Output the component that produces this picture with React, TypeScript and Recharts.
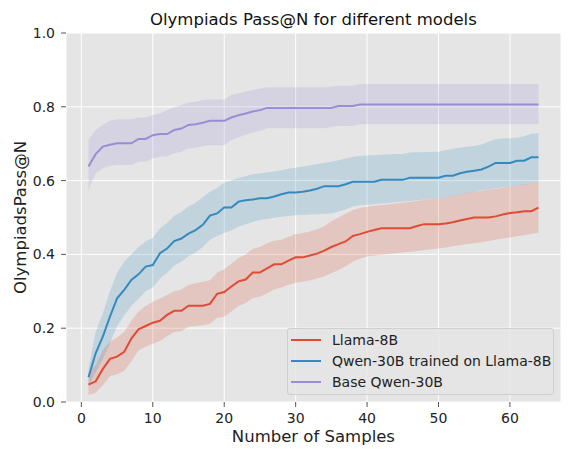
import React from 'react';
import { ComposedChart, Area, Line, XAxis, YAxis, CartesianGrid, Legend } from 'recharts';

const samples = Array.from({ length: 64 }, (_, i) => i + 1);

const llama = [
  0.047, 0.056, 0.089, 0.117, 0.123, 0.136, 0.172, 0.197, 0.206, 0.215,
  0.22, 0.236, 0.247, 0.247, 0.261, 0.261, 0.261, 0.266, 0.293, 0.298,
  0.313, 0.327, 0.332, 0.351, 0.351, 0.362, 0.373, 0.373, 0.383, 0.392,
  0.392, 0.397, 0.402, 0.41, 0.42, 0.428, 0.435, 0.45, 0.455, 0.461,
  0.466, 0.471, 0.471, 0.471, 0.471, 0.471, 0.477, 0.482, 0.482, 0.482,
  0.484, 0.487, 0.492, 0.496, 0.5, 0.5, 0.5, 0.503, 0.508, 0.512,
  0.514, 0.517, 0.517, 0.527,
];
const llamaLo = [
  0.019, 0.025, 0.045, 0.07, 0.075, 0.085, 0.11, 0.14, 0.15, 0.158,
  0.165, 0.178, 0.19, 0.192, 0.204, 0.206, 0.208, 0.212, 0.228, 0.231,
  0.245, 0.26, 0.268, 0.282, 0.285, 0.295, 0.305, 0.31, 0.318, 0.323,
  0.326, 0.33, 0.335, 0.34, 0.349, 0.358, 0.368, 0.38, 0.388, 0.394,
  0.397, 0.399, 0.401, 0.403, 0.405, 0.407, 0.409, 0.412, 0.414, 0.416,
  0.419, 0.422, 0.425, 0.428, 0.43, 0.433, 0.436, 0.44, 0.443, 0.446,
  0.449, 0.452, 0.455, 0.459,
];
const llamaHi = [
  0.08, 0.1, 0.14, 0.163, 0.175, 0.19, 0.22, 0.245, 0.26, 0.272,
  0.28, 0.29, 0.3, 0.305, 0.318, 0.322, 0.326, 0.33, 0.35, 0.36,
  0.375, 0.39, 0.4, 0.415, 0.42, 0.43, 0.437, 0.44, 0.448, 0.455,
  0.458, 0.462, 0.468, 0.476, 0.49, 0.5, 0.51, 0.52, 0.526, 0.529,
  0.532, 0.534, 0.536, 0.538, 0.54, 0.543, 0.545, 0.548, 0.55, 0.552,
  0.555, 0.559, 0.563, 0.567, 0.57, 0.572, 0.575, 0.578, 0.58, 0.583,
  0.587, 0.59, 0.593, 0.597,
];

const qwenTrained = [
  0.067, 0.132, 0.177, 0.231, 0.281, 0.304, 0.331, 0.346, 0.367, 0.371,
  0.403, 0.416, 0.436, 0.443, 0.456, 0.466, 0.48, 0.505, 0.511, 0.527,
  0.527, 0.543, 0.547, 0.549, 0.552, 0.552, 0.557, 0.563, 0.568, 0.568,
  0.57, 0.573, 0.578, 0.585, 0.585, 0.585, 0.59, 0.597, 0.597, 0.597,
  0.597, 0.602, 0.602, 0.602, 0.602, 0.608, 0.608, 0.608, 0.608, 0.608,
  0.613, 0.613, 0.62, 0.624, 0.627, 0.63, 0.638, 0.648, 0.648, 0.648,
  0.654, 0.654, 0.663, 0.663,
];
const qwenTrainedLo = [
  0.045, 0.08, 0.115, 0.16, 0.205, 0.235, 0.26, 0.28, 0.3, 0.31,
  0.335, 0.35, 0.37, 0.38, 0.395, 0.405, 0.42, 0.44, 0.45, 0.458,
  0.465, 0.475, 0.482, 0.488, 0.493, 0.496, 0.499, 0.502, 0.504, 0.506,
  0.507, 0.508, 0.509, 0.51, 0.511, 0.516, 0.522, 0.53, 0.533, 0.534,
  0.536, 0.538, 0.539, 0.541, 0.543, 0.545, 0.547, 0.549, 0.551, 0.552,
  0.555, 0.558, 0.562, 0.566, 0.57, 0.573, 0.576, 0.579, 0.581, 0.583,
  0.586, 0.589, 0.593, 0.597,
];
const qwenTrainedHi = [
  0.09, 0.19, 0.24, 0.3, 0.35, 0.38, 0.4, 0.42, 0.435, 0.445,
  0.47, 0.485, 0.505, 0.515, 0.53, 0.54, 0.555, 0.57, 0.58, 0.595,
  0.6, 0.607, 0.612, 0.617, 0.62, 0.622, 0.625, 0.628, 0.632, 0.635,
  0.638, 0.641, 0.645, 0.648, 0.651, 0.655, 0.66, 0.664, 0.667, 0.668,
  0.669, 0.67, 0.671, 0.672, 0.672, 0.676, 0.677, 0.677, 0.678, 0.678,
  0.682, 0.686, 0.69, 0.692, 0.694, 0.698, 0.705, 0.712, 0.714, 0.715,
  0.716, 0.72, 0.727, 0.728,
];

const qwenBase = [
  0.638, 0.672, 0.692, 0.697, 0.701, 0.701, 0.701, 0.713, 0.713, 0.723,
  0.726, 0.726, 0.737, 0.741, 0.751, 0.753, 0.757, 0.762, 0.762, 0.762,
  0.771, 0.777, 0.782, 0.787, 0.791, 0.797, 0.797, 0.797, 0.797, 0.797,
  0.797, 0.797, 0.797, 0.797, 0.797, 0.802, 0.802, 0.802, 0.806, 0.806,
  0.806, 0.806, 0.806, 0.806, 0.806, 0.806, 0.806, 0.806, 0.806, 0.806,
  0.806, 0.806, 0.806, 0.806, 0.806, 0.806, 0.806, 0.806, 0.806, 0.806,
  0.806, 0.806, 0.806, 0.806,
];
const qwenBaseLo = [
  0.575, 0.62, 0.633, 0.64, 0.642, 0.642, 0.642, 0.651, 0.651, 0.66,
  0.665, 0.665, 0.674, 0.678, 0.687, 0.689, 0.694, 0.696, 0.696, 0.696,
  0.71, 0.717, 0.724, 0.73, 0.735, 0.742, 0.742, 0.742, 0.742, 0.742,
  0.742, 0.742, 0.742, 0.742, 0.746, 0.748, 0.748, 0.748, 0.753, 0.753,
  0.753, 0.753, 0.753, 0.753, 0.753, 0.753, 0.753, 0.753, 0.753, 0.753,
  0.753, 0.753, 0.753, 0.753, 0.753, 0.753, 0.753, 0.753, 0.753, 0.753,
  0.753, 0.753, 0.753, 0.753,
];
const qwenBaseHi = [
  0.71, 0.737, 0.751, 0.762, 0.766, 0.766, 0.766, 0.771, 0.771, 0.778,
  0.782, 0.791, 0.798, 0.805, 0.811, 0.814, 0.818, 0.82, 0.82, 0.82,
  0.832, 0.837, 0.841, 0.846, 0.849, 0.853, 0.853, 0.853, 0.853, 0.853,
  0.853, 0.853, 0.853, 0.853, 0.854, 0.857, 0.857, 0.857, 0.862, 0.862,
  0.862, 0.862, 0.862, 0.862, 0.862, 0.862, 0.862, 0.862, 0.862, 0.862,
  0.862, 0.862, 0.862, 0.862, 0.862, 0.862, 0.862, 0.862, 0.862, 0.862,
  0.862, 0.862, 0.862, 0.862,
];

const xTicks = [0, 10, 20, 30, 40, 50, 60];
const yTicks = [0, 0.2, 0.4, 0.6, 0.8, 1.0];

const seriesNames = ['Llama-8B', 'Qwen-30B trained on Llama-8B', 'Base Qwen-30B'];
const seriesColors = ['#E24A33', '#348ABD', '#988ED5'];

const data = samples.map((x, i) => ({
  x,
  llama: llama[i],
  llamaBand: [llamaLo[i], llamaHi[i]],
  qwenTrained: qwenTrained[i],
  qwenTrainedBand: [qwenTrainedLo[i], qwenTrainedHi[i]],
  qwenBase: qwenBase[i],
  qwenBaseBand: [qwenBaseLo[i], qwenBaseHi[i]],
}));

const FONT = '"DejaVu Sans", sans-serif';

const LegendBox = () => (
  <div
    style={{
      width: 267,
      height: 67,
      boxSizing: 'border-box',
      background: 'rgba(229,229,229,0.8)',
      border: '1px solid #cfcfcf',
      borderRadius: 3,
      fontFamily: FONT,
      fontSize: 14,
      color: '#222',
      paddingTop: 1,
    }}
  >
    {seriesNames.map((name, i) => (
      <div key={name} style={{ height: 20.8, display: 'flex', alignItems: 'center', marginTop: i === 0 ? 0 : 0 }}>
        <div style={{ width: 30, height: 2, background: seriesColors[i], marginLeft: 3, marginRight: 11 }} />
        <span style={{ whiteSpace: 'nowrap' }}>{name}</span>
      </div>
    ))}
  </div>
);

export default function App() {
  return (
    <div style={{ position: 'absolute', left: 0, top: 0, width: 571, height: 459, background: '#fff' }}>
      <ComposedChart
        width={571}
        height={459}
        data={data}
        margin={{ top: 33, right: 10, bottom: 0, left: 0 }}
      >
        <CartesianGrid fill="#E5E5E5" stroke="#FFFFFF" strokeWidth={1} />
        <XAxis
          dataKey="x"
          type="number"
          domain={[-2.15, 67.15]}
          ticks={xTicks}
          height={57}
          axisLine={false}
          tickLine={{ stroke: '#555555' }}
          tickSize={5}
          tickMargin={6}
          tick={{ fill: '#222', fontSize: 14, fontFamily: FONT }}
          allowDataOverflow
        />
        <YAxis
          type="number"
          domain={[0, 1]}
          ticks={yTicks}
          width={66}
          axisLine={false}
          tickLine={{ stroke: '#555555' }}
          tickSize={5}
          tickMargin={6}
          tickFormatter={(v: number) => v.toFixed(1)}
          tick={{ fill: '#222', fontSize: 14, fontFamily: FONT }}
          allowDataOverflow
        />
        <Area type="linear" dataKey="llamaBand" stroke="none" fill={seriesColors[0]} fillOpacity={0.2} isAnimationActive={false} legendType="none" />
        <Area type="linear" dataKey="qwenTrainedBand" stroke="none" fill={seriesColors[1]} fillOpacity={0.2} isAnimationActive={false} legendType="none" />
        <Area type="linear" dataKey="qwenBaseBand" stroke="none" fill={seriesColors[2]} fillOpacity={0.2} isAnimationActive={false} legendType="none" />
        <Line type="linear" dataKey="llama" stroke={seriesColors[0]} strokeWidth={2} dot={false} isAnimationActive={false} />
        <Line type="linear" dataKey="qwenTrained" stroke={seriesColors[1]} strokeWidth={2} dot={false} isAnimationActive={false} />
        <Line type="linear" dataKey="qwenBase" stroke={seriesColors[2]} strokeWidth={2} dot={false} isAnimationActive={false} />
        <Legend
          layout="vertical"
          align="center"
          verticalAlign="middle"
          content={() => <LegendBox />}
          wrapperStyle={{ left: 287, top: 328, width: 267, height: 67 }}
        />
      </ComposedChart>
      <svg
        width={571}
        height={459}
        style={{ position: 'absolute', left: 0, top: 0, pointerEvents: 'none' }}
      >
        <text x={313.4} y={25} textAnchor="middle" fontFamily={FONT} fontSize={16.5} fill="#111">
          Olympiads Pass@N for different models
        </text>
        <text x={313.4} y={442} textAnchor="middle" fontFamily={FONT} fontSize={16.5} fill="#222">
          Number of Samples
        </text>
        <text
          x={0}
          y={0}
          transform="translate(26,217.5) rotate(-90)"
          textAnchor="middle"
          fontFamily={FONT}
          fontSize={16.5}
          fill="#222"
        >
          OlympiadsPass@N
        </text>
      </svg>
    </div>
  );
}
